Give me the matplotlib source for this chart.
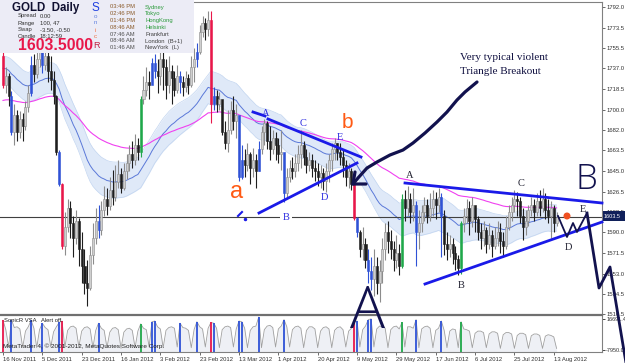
import matplotlib
matplotlib.use("Agg")
import matplotlib.pyplot as plt
import numpy as np
from matplotlib.patches import Rectangle, Circle

plt.rcParams['font.family'] = ['Liberation Sans', 'DejaVu Sans']

# ---------------- data ----------------
first_open = 1748
closes = [1722,1730,1712,1680,1695,1680,1692,1685,1702,1715,
          1740,1732,1745,1752,1740,1748,1735,1727,1712,1662,
          1633,1578,1595,1612,1598,1585,1600,1575,1560,1545,
          1540,1570,1585,1600,1592,1610,1620,1614,1628,1622,
          1635,1642,1630,1645,1652,1660,1655,1668,1662,1710,
          1718,1725,1722,1742,1735,1730,1745,1738,1722,1735,
          1728,1718,1730,1725,1720,1728,1722,1738,1745,1752,
          1770,1778,1772,1780,1705,1712,1705,1710,1680,1670,
          1682,1700,1690,1695,1640,1655,1650,1660,1648,1655,
          1645,1665,1680,1688,1672,1665,1675,1668,1660,1662,
          1625,1640,1648,1645,1652,1660,1668,1658,1650,1655,
          1648,1645,1640,1643,1636,1645,1655,1665,1670,1662,
          1658,1650,1640,1645,1633,1603,1590,1575,1580,1565,
          1555,1548,1560,1545,1555,1575,1590,1582,1575,1565,
          1572,1560,1620,1612,1620,1608,1615,1590,1598,1608,
          1615,1605,1612,1620,1615,1622,1605,1580,1575,1580,
          1572,1566,1558,1598,1605,1612,1600,1615,1602,1590,
          1585,1592,1580,1588,1578,1585,1590,1582,1578,1595,
          1608,1615,1620,1618,1605,1595,1600,1610,1615,1608,
          1618,1612,1620,1610,1605,1612,1598,1603.5]
highs = [1752,1738,1733,1717,1705,1700,1699,1697,1708,1722,
         1748,1750,1756,1765,1760,1770,1755,1748,1735,1713,
         1664,1634,1608,1620,1618,1605,1610,1603,1590,1575,
         1565,1578,1598,1612,1615,1618,1632,1630,1640,1646,
         1650,1655,1648,1652,1660,1668,1672,1678,1675,1712,
         1730,1738,1735,1746,1750,1745,1755,1752,1745,1748,
         1740,1735,1740,1735,1730,1735,1732,1748,1755,1760,
         1776,1784,1782,1788,1788,1720,1718,1716,1706,1690,
         1700,1708,1712,1705,1678,1668,1665,1670,1662,1666,
         1660,1672,1685,1692,1690,1685,1682,1680,1675,1682,
         1650,1648,1655,1658,1660,1668,1682,1672,1665,1662,
         1660,1655,1652,1650,1648,1652,1660,1670,1675,1670,
         1670,1665,1655,1652,1648,1634,1604,1592,1595,1585,
         1575,1568,1575,1568,1565,1585,1598,1600,1592,1582,
         1588,1580,1624,1628,1632,1625,1630,1618,1610,1615,
         1622,1620,1625,1628,1626,1630,1625,1610,1590,1588,
         1585,1578,1570,1600,1612,1620,1618,1622,1612,1605,
         1598,1600,1595,1598,1592,1595,1600,1598,1590,1605,
         1615,1622,1628,1626,1622,1612,1610,1615,1622,1620,
         1625,1628,1630,1625,1620,1618,1615,1608]
lows = [1719,1715,1703,1677,1668,1672,1675,1672,1682,1698,
        1712,1725,1728,1738,1733,1736,1725,1718,1705,1659,
        1632,1575,1570,1590,1585,1568,1580,1560,1545,1535,
        1524,1538,1562,1580,1585,1588,1605,1606,1610,1615,
        1618,1630,1625,1628,1638,1645,1648,1650,1655,1658,
        1705,1712,1710,1725,1728,1715,1722,1718,1710,1715,
        1705,1712,1715,1715,1712,1716,1714,1720,1725,1738,
        1750,1765,1762,1766,1688,1700,1698,1700,1677,1665,
        1662,1678,1682,1675,1636,1638,1640,1645,1633,1640,
        1630,1645,1660,1668,1665,1655,1660,1655,1652,1646,
        1617,1622,1635,1638,1640,1645,1648,1650,1643,1645,
        1640,1636,1632,1630,1628,1626,1635,1645,1655,1655,
        1650,1640,1632,1630,1628,1601,1586,1568,1565,1558,
        1545,1538,1533,1535,1528,1545,1565,1572,1566,1555,
        1558,1552,1558,1600,1605,1598,1600,1560,1575,1590,
        1600,1598,1600,1605,1602,1608,1568,1570,1565,1568,
        1562,1556,1552,1553,1590,1598,1588,1595,1590,1583,
        1575,1578,1572,1575,1568,1575,1578,1572,1568,1575,
        1592,1600,1608,1605,1598,1583,1588,1596,1605,1600,
        1605,1605,1608,1602,1598,1585,1590,1596]
volume = [88,62,14,90,68, 70,64,13,58,70, 88,66,12,62,80, 68,62,14,56,70,
          82,86,12,60,70, 72,66,14,58,68, 70,64,12,60,80, 66,60,12,55,66,
          68,62,10,55,64, 66,60,12,58,78, 66,62,14,84,86, 70,64,12,60,68,
          70,66,14,80,68, 66,60,12,62,84, 70,64,14,66,82, 80,66,12,62,70,
          72,68,14,64,86, 84,66,12,60,70, 72,97,12,62,72, 74,68,14,64,72,
          90,70,14,62,70, 72,66,12,60,70, 70,64,12,58,68, 70,64,12,60,68,
          70,62,14,58,66, 84,86,14,62,72, 90,92,14,64,72, 70,66,12,62,70,
          72,64,82,14,70, 70,66,90,12,64, 70,72,66,12,60, 66,86,60,12,58,
          64,62,12,84,64, 62,58,12,52,58, 58,54,12,50,56, 56,52,10,48,54,
          54,50,10,46,52, 52,48,10,45,50, 50,46,10,44,48, 46,42,10]
vsa_blue = [3,10,14,20,34,53,54,63,69,75,84,85,91,100,126,130,131,147,156]
vsa_red = [0,21,74,125]
vsa_green = [49,142,163]
price_ticks = [1792.0,1773.5,1755.5,1737.0,1718.5,1700.0,1682.0,1663.5,1645.0,
               1626.5,1608.5,1590.0,1571.5,1553.0,1534.5,1516.5]
date_labels = ["16 Nov 2011","5 Dec 2011","23 Dec 2011","16 Jan 2012","3 Feb 2012",
               "23 Feb 2012","13 Mar 2012","1 Apr 2012","20 Apr 2012","9 May 2012",
               "29 May 2012","17 Jun 2012","6 Jul 2012","25 Jul 2012","13 Aug 2012"]
current_price = 1603.5
ema_seed_mid, ema_seed_high, ema_seed_low, ema_seed_slow = 1738, 1748, 1724, 1708

# ---------------- figure ----------------
W, H = 625, 363
fig = plt.figure(figsize=(6.25, 3.63), dpi=100)
fig.patch.set_facecolor('white')

def px_axes(x0, y0, x1, y1, **kw):
    return fig.add_axes([x0 / W, 1 - y1 / H, (x1 - x0) / W, (y1 - y0) / H], **kw)

n = len(closes)
idx = np.arange(n)
opens = [first_open] + closes[:-1]

def ema(vals, period, seed):
    a = 2.0 / (period + 1)
    out = []
    e = seed
    for v in vals:
        e = e + a * (v - e)
        out.append(e)
    return np.array(out)

mid = ema(closes, 34, ema_seed_mid)
band_hi = ema(highs, 34, ema_seed_high)
band_lo = ema(lows, 34, ema_seed_low)
slow = ema(closes, 89, ema_seed_slow)

xlim = ((0 - 3) / 2.81, (602 - 3) / 2.81)
TICK_FS = 4.2

ax = px_axes(0, 2, 602, 315)
ax.set_xlim(*xlim)
ax.set_ylim(1516.0, 1796.5)
ax.fill_between(idx, band_lo, band_hi, color='#dfe9f8', lw=0, zorder=1)
ax.plot(idx, band_hi, color='#c2d5f0', lw=0.5, zorder=1)
ax.plot(idx, band_lo, color='#c2d5f0', lw=0.5, zorder=1)
ax.plot(idx, mid, color='#5a78d8', lw=0.7, zorder=2)
ax.plot(idx, slow, color='#f040f0', lw=0.8, zorder=2)
ax.axhline(current_price, color='#404040', lw=0.8, zorder=2)

col_map = {}
for i in vsa_blue:
    col_map[i] = '#2f52d6'
for i in vsa_red:
    col_map[i] = '#e8174a'
for i in vsa_green:
    col_map[i] = '#1fa84a'

for i in range(n):
    o, c, h, l = opens[i], closes[i], highs[i], lows[i]
    if i in col_map:
        fc = ec = col_map[i]
    elif c >= o:
        fc, ec = '#cfcfcf', '#8c8c8c'
    else:
        fc = ec = '#1e1e1e'
    ax.vlines(i, l, h, color=ec, lw=0.8, zorder=3)
    ax.bar(i, max(abs(c - o), 0.8), bottom=min(o, c), width=0.72,
           color=fc, edgecolor=ec, lw=0.4, zorder=4)

ax.yaxis.tick_right()
ax.set_yticks(price_ticks)
ax.set_yticklabels([f"{t:.1f}" for t in price_ticks], fontsize=TICK_FS, color='#303030')
ax.tick_params(axis='y', length=2, width=0.5, pad=1, colors='#303030')
ax.set_xticks([])
for s in ['left', 'bottom']:
    ax.spines[s].set_visible(False)
ax.spines['top'].set_color('#808080')
ax.spines['top'].set_linewidth(0.8)
ax.spines['right'].set_color('#808080')
ax.spines['right'].set_linewidth(0.8)

# volume pane
vx = px_axes(0, 316, 602, 352)
vx.set_xlim(*xlim)
vx.set_ylim(0, 100)
vx.fill_between(idx, 0, volume, color='#eef0f5', lw=0, zorder=1)
vx.plot(idx, volume, color='#a0a0a0', lw=0.6, zorder=2)
for i in range(n):
    if i in col_map:
        vx.vlines(i, 0, volume[i], color=col_map[i], lw=1.3, zorder=3)
vx.yaxis.tick_right()
vx.set_yticks([91, 6])
vx.set_yticklabels(["16691.4", "-7950.0"], fontsize=TICK_FS - 0.2, color='#303030')
vx.tick_params(axis='y', length=2, width=0.5, pad=1)
vx.set_xticks(np.arange(0, n, 14))
vx.set_xticklabels(date_labels, fontsize=TICK_FS, color='#202020', ha='left')
vx.tick_params(axis='x', length=2, width=0.5, pad=1.5, colors='#303030')
for s in ['left', 'top']:
    vx.spines[s].set_visible(False)
vx.spines['bottom'].set_color('#808080')
vx.spines['right'].set_color('#808080')
vx.spines['right'].set_linewidth(0.8)

# ---------------- overlay (info box + hand drawings) ----------------
ov = fig.add_axes([0, 0, 1, 1], zorder=10)
ov.set_xlim(0, W)
ov.set_ylim(H, 0)
ov.axis('off')

ov.add_line(plt.Line2D([0, 602], [315, 315], color='#707070', lw=1.6))
ov.add_patch(Rectangle((0, 0), 194, 53, facecolor='#ececf6', edgecolor='none'))
ov.text(12, 8, "GOLD  Daily", fontsize=8.3, fontweight='bold', color='#101030', va='center')
for k, (lab, val) in enumerate([("Spread", "0.00"), ("Range", "100, 47"),
                                ("Swap", "-3.50, -0.50"), ("Candle", "18:12:59")]):
    ov.text(18, 16 + 7 * k, lab, fontsize=4.2, color='#303030', va='center')
    ov.text(40, 16 + 7 * k, val, fontsize=4.2, color='#303030', va='center')
ov.text(18, 46, "1603.5000", fontsize=11.3, fontweight='bold', color='#e8174a', va='center')
ov.text(95, 8, "S", fontsize=8.5, color='#2040e0', va='center', ha='center')
for k, (ch, cc) in enumerate([("o", '#6080e0'), ("n", '#6080e0'), ("i", '#f07040'), ("c", '#f07040')]):
    ov.text(95, 16 + 7 * k, ch, fontsize=4.5, color=cc, va='center', ha='center')
ov.text(97, 46, "R", fontsize=6.5, color='#c02040', va='center', ha='center')
times = ["03:46 PM", "02:46 PM", "01:46 PM", "08:46 AM", "07:46 AM", "08:46 AM", "01:46 AM"]
cities = ["Sydney", "Tokyo", "HongKong", "Helsinki", "Frankfurt", "London  (B+1)", "NewYork  (L)"]
for k in range(7):
    tcol = '#8a5a2a' if k < 4 else '#505050'
    ccol = '#2a9a3a' if k < 4 else '#404040'
    ov.text(110, 7 + 6.8 * k, times[k], fontsize=4.2, color=tcol, va='center')
    ov.text(145, 7 + 6.8 * k, cities[k], fontsize=4.2, color=ccol, va='center')

# current price tag
ov.add_patch(Rectangle((603, 211), 22, 10, facecolor='#10205a', edgecolor='none'))
ov.text(604, 216, "1603.5", fontsize=TICK_FS - 0.2, color='white', va='center')

# indicator pane texts
ov.text(4, 321, "SonicR VSA", fontsize=4.2, color='#202020', va='center')
ov.text(41, 321, "Alert off.", fontsize=4.2, color='#202020', va='center')
ov.text(3, 346, "MetaTrader 4, \u00a9 2001-2012, MetaQuotes Software Corp.", fontsize=4.6,
        color='#202020', va='center')

navy = '#12124e'
blue = '#1a1ae8'
orange = '#ff5a14'
serif = ['Liberation Serif', 'DejaVu Serif']
hand = ['Open Sans', 'DejaVu Sans']

# triangle 1
ov.plot([268, 361], [119, 157], color=blue, lw=2)
ov.plot([259, 357], [213, 163], color=blue, lw=2)
ov.plot([253, 265], [112, 116], color=blue, lw=2)
ov.plot([238, 242], [216, 212], color=blue, lw=1.5)
ov.plot([245], [219], 'o', color=blue, ms=1.5)
for lab, x, y in [("A", 266, 113), ("C", 303, 124), ("E", 340, 137), ("D", 324, 198)]:
    ov.text(x, y, lab, fontsize=7.5, family=serif, color='#2a2ae0', ha='center', va='center')
ov.text(286, 217, "B", fontsize=7.5, family=serif, color='#2a2ae0', ha='center', va='center',
        bbox=dict(facecolor='white', edgecolor='none', pad=1.5))
ov.text(237, 192, "a", fontsize=17, color=orange, ha='center', va='center')
ov.text(347, 122, "b", fontsize=15, color=orange, ha='center', va='center')

# arrow
ax_pts = [(477, 82), (465, 92), (457, 100), (447, 112), (437, 122), (425, 133), (413, 143),
          (403, 150), (390, 155), (377, 162), (367, 168), (358, 178), (353, 184)]
ov.plot([p[0] for p in ax_pts], [p[1] for p in ax_pts], color=navy, lw=2.3,
        solid_capstyle='round')
ov.plot([355, 353, 366], [172, 184, 184], color=navy, lw=2.3, solid_capstyle='round')
ov.text(460, 57, "Very typical violent", fontsize=8, family=serif, color='#101040', va='center')
ov.text(460, 71, "Triangle Breakout", fontsize=8, family=serif, color='#101040', va='center')

# triangle 2
ov.plot([405, 602], [183, 203], color=blue, lw=2)
ov.plot([425, 602], [284, 222], color=blue, lw=2)
for lab, x, y in [("A", 410, 176), ("B", 461, 286), ("C", 521, 183), ("D", 568, 247), ("E", 583, 210)]:
    ov.text(x, y, lab, fontsize=7.5, family=serif, color='#202030', ha='center', va='center')
ov.text(586, 180, "B", fontsize=25, family=hand, fontweight=300, color=navy,
        ha='center', va='center')
ov.text(368, 312, "A", fontsize=42, family=hand, fontweight=300, color=navy,
        ha='center', va='center')

# projected path
ov.plot([558, 567, 573, 577, 587], [216, 237, 223, 232, 213], color=navy, lw=1.3)
ov.plot([587, 599, 610, 626], [213, 288, 267, 363], color=navy, lw=2)
ov.add_patch(Circle((567, 216), 2.8, color='#f05020'))

fig.savefig("out.png", dpi=100)
